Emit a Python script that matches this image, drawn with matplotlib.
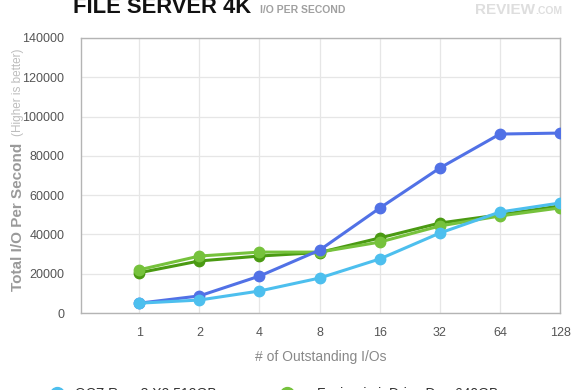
import matplotlib
matplotlib.use("Agg")
import matplotlib.pyplot as plt
from matplotlib.lines import Line2D

plt.rcParams['font.family'] = ['Liberation Sans', 'DejaVu Sans']

categories = ["1", "2", "4", "8", "16", "32", "64", "128"]
ocz_revo3 = [5000, 6600, 11200, 17800, 27500, 40700, 51400, 56000]
dark_blue = [5000, 8700, 18800, 32000, 53400, 73800, 91100, 91600]
dark_green = [20500, 26500, 29000, 30800, 38200, 45800, 50000, 54500]
fusion_io = [22000, 29000, 31000, 31000, 36100, 44300, 49400, 53500]
yticks = [0, 20000, 40000, 60000, 80000, 100000, 120000, 140000]

c_lblue = "#4dbfee"
c_dblue = "#5171e6"
c_dgreen = "#4a9a12"
c_lgreen = "#76c23c"

fig = plt.figure(figsize=(5.8, 3.9), dpi=100)
ax = fig.add_axes([81/580, (390-313)/390, 479/580, 275/390])

x = list(range(len(categories)))
for vals, col, z in [(dark_green, c_dgreen, 3), (fusion_io, c_lgreen, 4),
                     (dark_blue, c_dblue, 5), (ocz_revo3, c_lblue, 6)]:
    ax.plot(x, vals, color=col, lw=2.2, marker='o', ms=7.5, zorder=z,
            solid_capstyle='round')

ax.set_xlim(-0.97, 7)
ax.set_ylim(0, 140000)
ax.set_xticks(x)
ax.set_xticklabels(categories)
ax.set_yticks(yticks)
ax.set_yticklabels([str(v) for v in yticks])
ax.tick_params(axis='both', length=0, labelsize=9, colors='#555555')
ax.tick_params(axis='x', pad=10)
ax.tick_params(axis='y', pad=12)
ax.grid(True, color='#e6e6e6', lw=0.9, zorder=0)
ax.set_axisbelow(True)
for s in ax.spines.values():
    s.set_color('#b4b4b4')
    s.set_linewidth(1.0)

ax.set_xlabel("# of Outstanding I/Os", fontsize=10, color='#888888', labelpad=8)

fig.text(18/580, (390-291)/390, "Total I/O Per Second", rotation=90, fontsize=11,
         fontweight='bold', color='#9a9a9a', ha='center', va='bottom')
fig.text(18/580, (390-136)/390, "(Higher is better)", rotation=90, fontsize=8.5,
         color='#bdbdbd', ha='center', va='bottom')

fig.text(73/580, (390-13)/390, "FILE SERVER 4K", fontsize=15.8, fontweight='bold',
         color='#111111', ha='left', va='baseline')
fig.text(260/580, (390-13)/390, "I/O PER SECOND", fontsize=7.5, fontweight='bold',
         color='#a0a0a0', ha='left', va='baseline')
fig.text(535/580, (390-14)/390, "REVIEW", fontsize=11, fontweight='bold',
         color='#dedede', ha='right', va='baseline')
fig.text(535/580, (390-14)/390, ".COM", fontsize=7.5, fontweight='bold',
         color='#dedede', ha='left', va='baseline')

# legend (cut off at bottom)
ly = -4/390
fig.add_artist(Line2D([57/580], [ly], marker='o', ms=10, color=c_lblue,
                      transform=fig.transFigure))
fig.text(75/580, ly, "OCZ Revo3 X2 512GB", fontsize=10, color='#333333',
         ha='left', va='center')
fig.add_artist(Line2D([287/580], [ly], marker='o', ms=10, color=c_lgreen,
                      transform=fig.transFigure))
fig.text(317/580, ly, "Fusion-io ioDrive Duo 640GB", fontsize=10, color='#333333',
         ha='left', va='center')

fig.savefig("out.png", dpi=100)
